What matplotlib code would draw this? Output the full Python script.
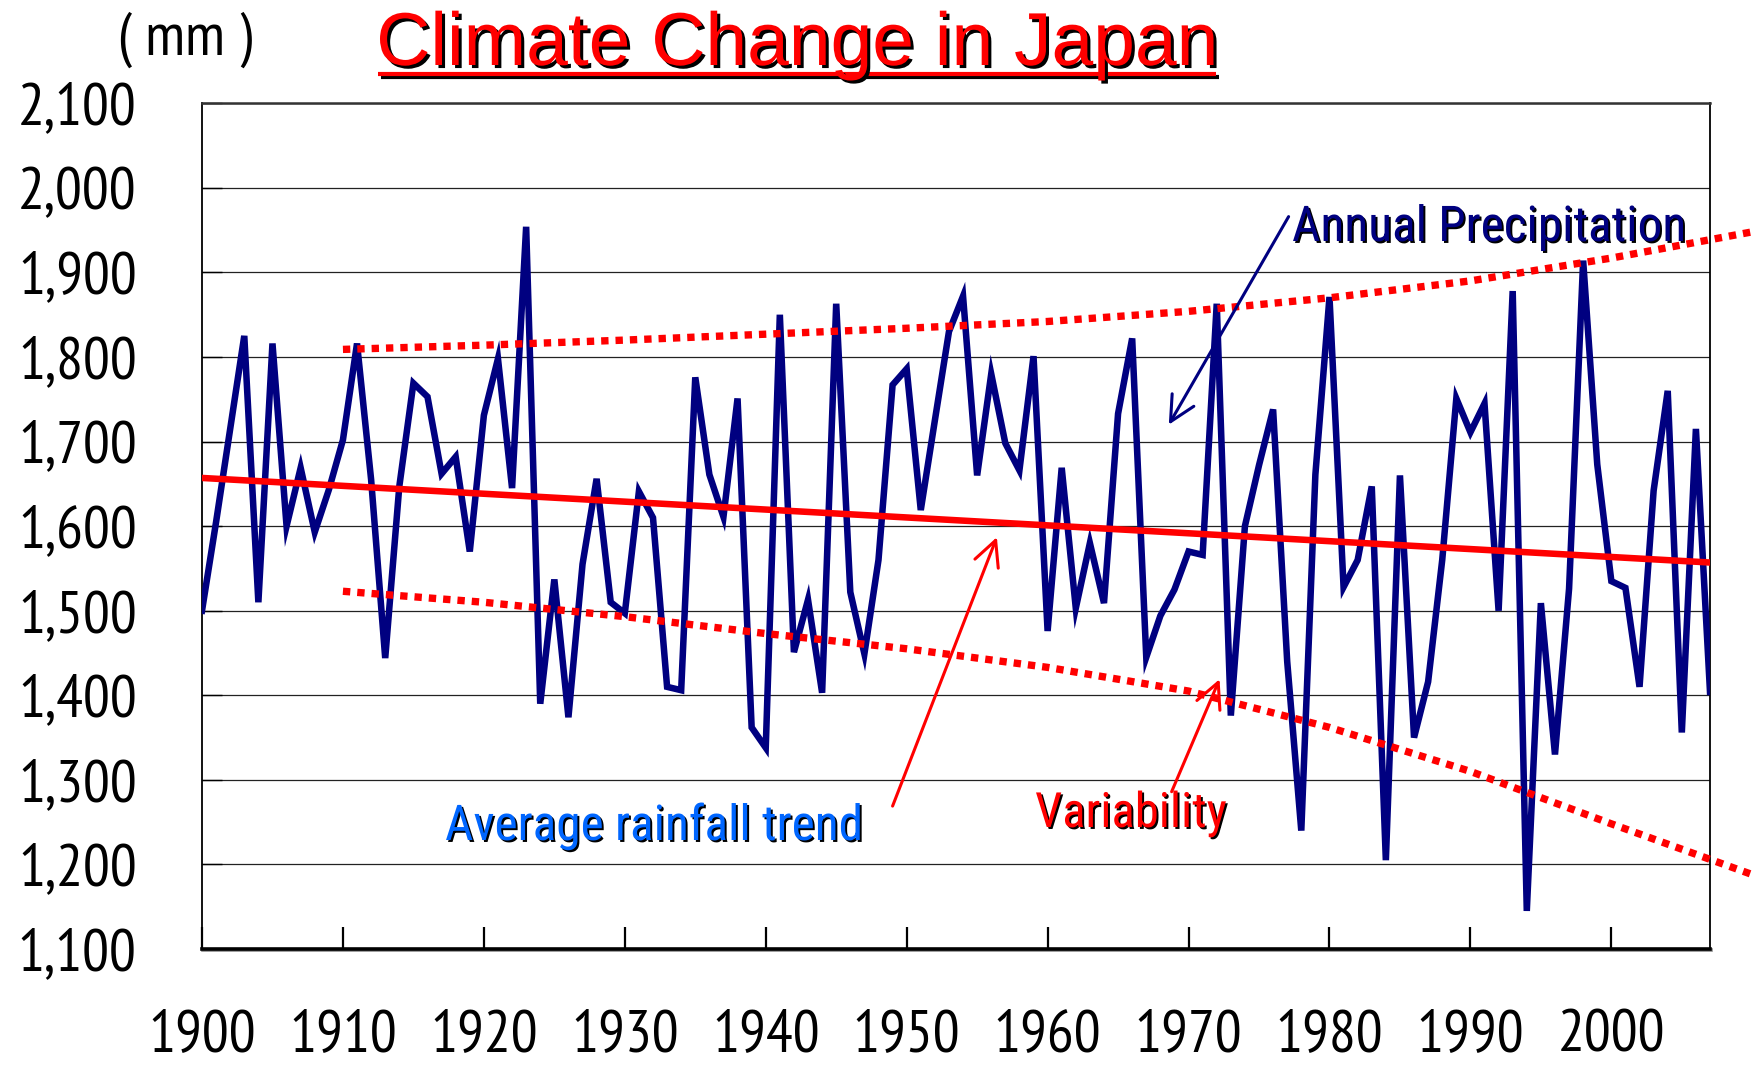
import matplotlib
matplotlib.use('Agg')
import matplotlib.pyplot as plt
import matplotlib.patheffects as pe
from matplotlib.lines import Line2D
from matplotlib.ticker import FuncFormatter
from matplotlib import font_manager as fm

# ---------------- data ----------------
years = list(range(1900, 2008))
precip = [1500, 1605, 1715, 1825, 1510, 1816, 1600, 1669, 1593, 1643,
          1702, 1816, 1655, 1444, 1647, 1769, 1753, 1662, 1682, 1570,
          1731, 1798, 1645, 1954, 1390, 1537, 1374, 1555, 1656, 1510,
          1497, 1641, 1610, 1410, 1406, 1776, 1661, 1611, 1751, 1362,
          1338, 1850, 1451, 1513, 1403, 1863, 1522, 1449, 1560, 1767,
          1786, 1619, 1725, 1830, 1872, 1660, 1780, 1698, 1666, 1801,
          1476, 1669, 1503, 1580, 1509, 1733, 1822, 1445, 1494, 1525,
          1570, 1566, 1863, 1376, 1600, 1672, 1738, 1440, 1240, 1661,
          1871, 1528, 1560, 1647, 1205, 1660, 1350, 1416, 1560, 1751,
          1711, 1745, 1500, 1878, 1145, 1509, 1330, 1526, 1914, 1673,
          1535, 1527, 1410, 1642, 1760, 1356, 1715, 1404]

trend_years = [1900, 2007]
trend_vals = [1657, 1557]

band_years = [1910, 1920, 1930, 1940, 1950, 1960, 1970, 1980, 1990, 2000, 2010]
upper_vals = [1809, 1814, 1820, 1827, 1834, 1842, 1854, 1870, 1890, 1917, 1948]
lower_vals = [1523, 1510, 1493, 1473, 1455, 1433, 1405, 1362, 1310, 1248, 1188]

y_ticks = list(range(1100, 2101, 100))
x_ticks = list(range(1900, 2001, 10))

title = "Climate Change in Japan"
unit_label = "( mm )"
lbl_annual = "Annual Precipitation"
lbl_avg = "Average rainfall trend"
lbl_var = "Variability"

# ---------------- fonts ----------------
installed = {f.name for f in fm.fontManager.ttflist}

def pick(*cands):
    for c in cands:
        if c in installed:
            return [c, 'DejaVu Sans']
    return ['DejaVu Sans']

tick_family = pick('PT Sans Narrow', 'Roboto Condensed')
label_family = pick('Roboto Condensed', 'PT Sans Narrow')
arial = pick('Liberation Sans', 'Arimo')

# ---------------- figure ----------------
W, H = 1761, 1071
fig = plt.figure(figsize=(W / 100, H / 100), dpi=100)
L, R, T, B = 202, 1710, 103.3, 949
ax = fig.add_axes([L / W, 1 - B / H, (R - L) / W, (B - T) / H])

navy = '#000080'
red = '#ff0000'
blue = '#0066ff'

ax.set_xlim(1900, 2007)
ax.set_ylim(1100, 2100)

ax.set_yticks(y_ticks)
ax.set_xticks(x_ticks)
ax.yaxis.set_major_formatter(FuncFormatter(lambda v, p: f"{int(v):,}"))
ax.grid(axis='y', color='#222222', linewidth=0.9)
ax.set_axisbelow(True)

ax.tick_params(axis='y', direction='in', length=14.5, width=1.0, pad=47, colors='black')
ax.tick_params(axis='x', direction='in', length=16, width=1.6, pad=43.5, colors='black')
for lab in ax.get_xticklabels() + ax.get_yticklabels():
    lab.set_family(tick_family)
    lab.set_fontsize(43)

ax.spines['bottom'].set_linewidth(2.6)
ax.spines['bottom'].set_path_effects([pe.SimpleLineShadow(offset=(1, -1), shadow_color='#888888', alpha=1), pe.Normal()])
ax.spines['left'].set_linewidth(1.3)
ax.spines['top'].set_linewidth(1.8)
ax.spines['top'].set_color('#333333')
ax.spines['right'].set_linewidth(1.3)

# data series
ax.plot(years, precip, color=navy, linewidth=4.7, solid_joinstyle='miter', zorder=4)
ax.plot(trend_years, trend_vals, color=red, linewidth=4.7, zorder=5)
for vals in (upper_vals, lower_vals):
    ax.plot(band_years, vals, color=red, linewidth=5.3, linestyle=(0, (1, 0.95)),
            dash_capstyle='butt', clip_on=False, zorder=6)

# arrows
def arrow(tail, tip, color):
    ax.annotate('', xy=tip, xytext=tail, annotation_clip=False,
                arrowprops=dict(arrowstyle='->,head_length=0.5,head_width=0.25',
                                mutation_scale=36, lw=2.2, color=color,
                                shrinkA=0, shrinkB=0), zorder=7)

arrow((1977.1, 1966), (1968.6, 1720), navy)
arrow((1949.0, 1269), (1956.4, 1587), red)
arrow((1968.8, 1286), (1972.2, 1419), red)

shadow = [pe.withSimplePatchShadow(offset=(1.4, -1.4), shadow_rgbFace='black', alpha=1.0)]

def ftext(x, y, s, **kw):
    return fig.text(x / W, 1 - y / H, s, **kw)

ftext(1292, 241, lbl_annual, color=navy, fontsize=35.5, family=label_family,
      ha='left', va='baseline', path_effects=shadow)
ftext(445, 840, lbl_avg, color=blue, fontsize=35.5, family=label_family,
      ha='left', va='baseline', path_effects=shadow)
ftext(1035, 827, lbl_var, color=red, fontsize=35, family=label_family,
      ha='left', va='baseline', path_effects=shadow)

# title + underline
ftext(797, 65, title, color=red, fontsize=54, family=arial, ha='center',
      va='baseline', path_effects=[pe.withSimplePatchShadow(offset=(2.2, -2.2), shadow_rgbFace='black', alpha=1.0)])
ul = Line2D([378 / W, 1216 / W], [1 - 74 / H, 1 - 74 / H], transform=fig.transFigure,
            color=red, linewidth=3.0, solid_capstyle='butt',
            path_effects=[pe.SimpleLineShadow(offset=(2, -2), shadow_color='black', alpha=1), pe.Normal()])
fig.add_artist(ul)

ftext(118, 55, unit_label, color='black', family=tick_family, fontsize=44,
      ha='left', va='baseline')

fig.savefig('out.png', dpi=100)
